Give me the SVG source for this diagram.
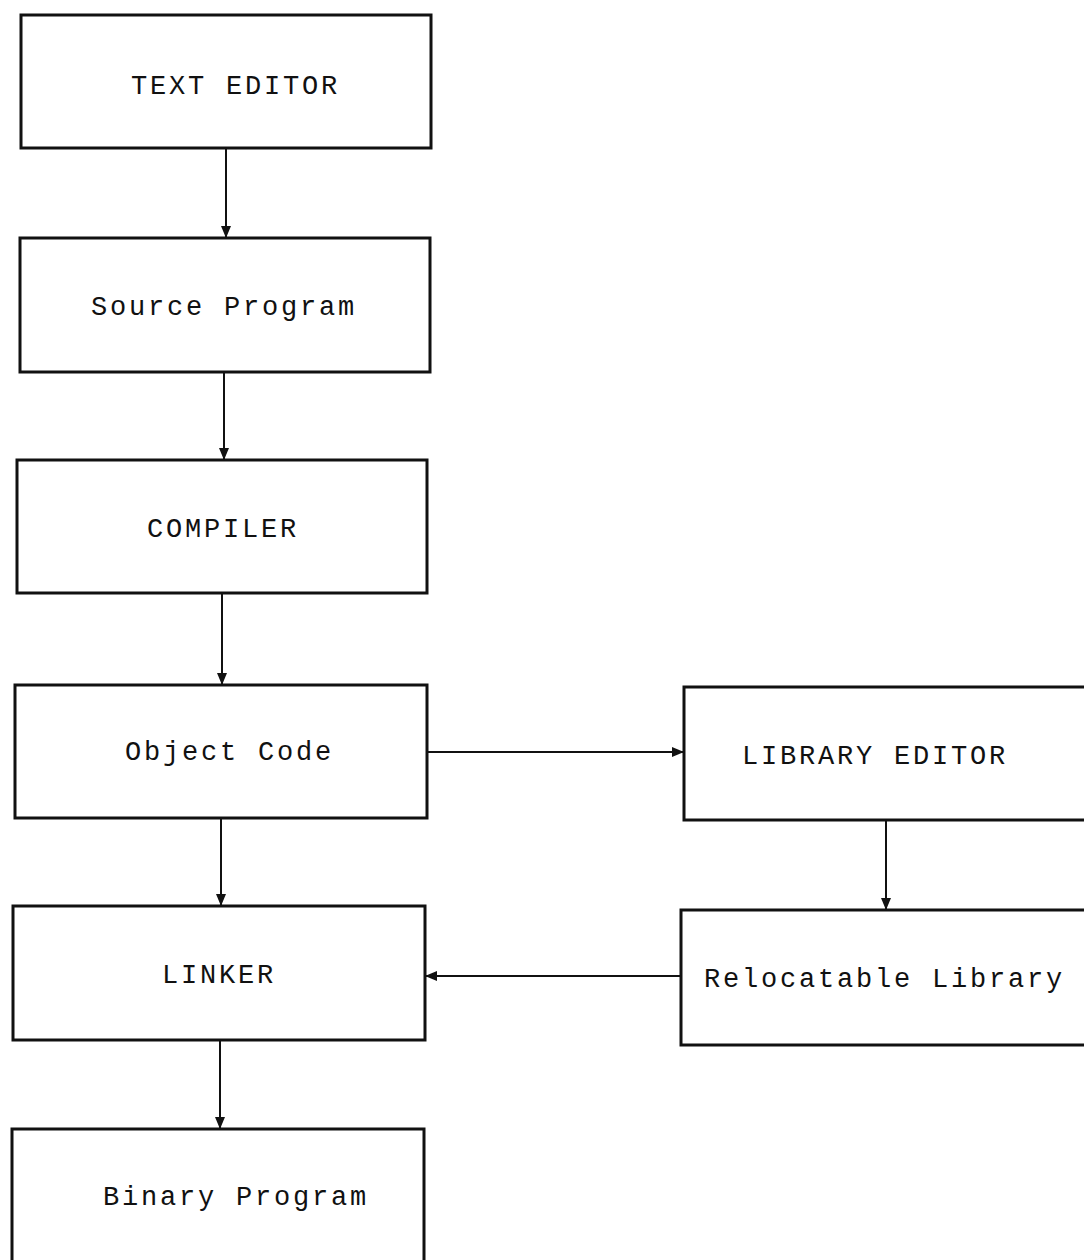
<svg xmlns="http://www.w3.org/2000/svg" width="1084" height="1260" viewBox="0 0 1084 1260">
<style>
.box{fill:none;stroke:#111;stroke-width:3}
.lbl{font-family:"Liberation Mono","Courier New",monospace;font-size:27px;letter-spacing:2.8px;fill:#111}
.c{stroke:#111;stroke-width:2;fill:none;marker-end:url(#ah)}
</style>
<defs>
<marker id="ah" viewBox="0 0 12 12" refX="12" refY="6" markerWidth="12" markerHeight="12" markerUnits="userSpaceOnUse" orient="auto">
<path d="M0,1 L12,6 L0,11 Z" fill="#111"/>
</marker>
</defs>
<rect width="1084" height="1260" fill="#fff"/>
<g id="n-text-editor"><rect class="box" x="21" y="15" width="410" height="133"/><text class="lbl" x="131" y="94">TEXT EDITOR</text></g>
<g id="n-source"><rect class="box" x="20" y="238" width="410" height="134"/><text class="lbl" x="91" y="315">Source Program</text></g>
<g id="n-compiler"><rect class="box" x="17" y="460" width="410" height="133"/><text class="lbl" x="147" y="537">COMPILER</text></g>
<g id="n-object"><rect class="box" x="15" y="685" width="412" height="133"/><text class="lbl" x="125" y="760">Object Code</text></g>
<g id="n-linker"><rect class="box" x="13" y="906" width="412" height="134"/><text class="lbl" x="162" y="983">LINKER</text></g>
<g id="n-binary"><rect class="box" x="12" y="1129" width="412" height="140"/><text class="lbl" x="103" y="1205">Binary Program</text></g>
<g id="n-libed"><rect class="box" x="684" y="687" width="410" height="133"/><text class="lbl" x="742" y="764">LIBRARY EDITOR</text></g>
<g id="n-reloc"><rect class="box" x="681" y="910" width="413" height="135"/><text class="lbl" x="704" y="987">Relocatable Library</text></g>
<g id="connectors">
<path class="c" d="M226,148 V238"/>
<path class="c" d="M224,372 V460"/>
<path class="c" d="M222,593 V685"/>
<path class="c" d="M221,818 V906"/>
<path class="c" d="M220,1040 V1129"/>
<path class="c" d="M427,752 H684"/>
<path class="c" d="M886,820 V910"/>
<path class="c" d="M681,976 H425"/>
</g>
</svg>
